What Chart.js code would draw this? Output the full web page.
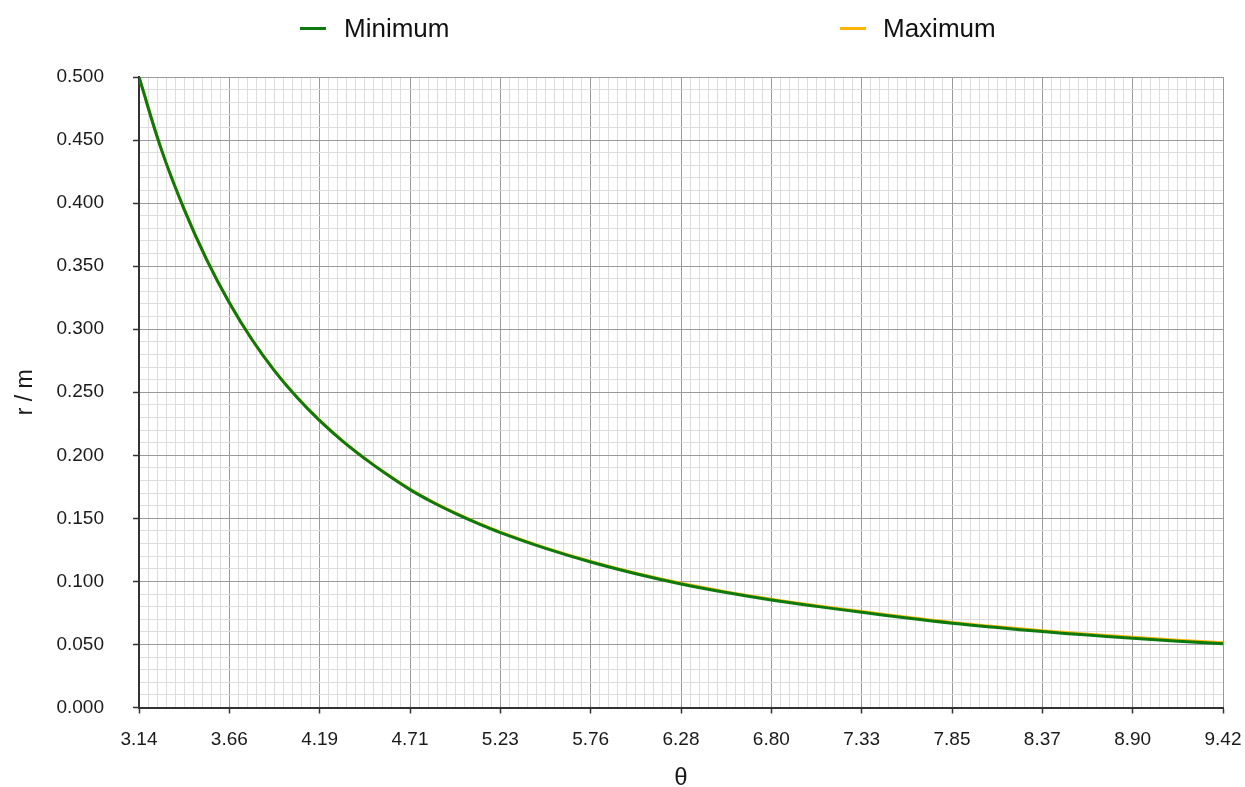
<!DOCTYPE html>
<html>
<head>
<meta charset="utf-8">
<script src="https://cdn.jsdelivr.net/npm/chart.js@4/dist/chart.umd.min.js"></script>
<style>
  body { margin: 0; background: #fff; }
  #wrap { position: relative; width: 1245px; height: 787px; }
  .legend-item { position: absolute; top: 13px; height: 30px; font: 26px "Liberation Sans", Arial, sans-serif; line-height: 30px; color: #111; }
  .legend-item span.swatch { position: absolute; top: 14px; height: 3px; width: 26px; }
  .legend-item span.label { position: absolute; white-space: nowrap; }
</style>
</head>
<body>
<div id="wrap">
  <canvas id="chart" width="1245" height="787"></canvas>
  <div class="legend-item" style="left:300px"><span class="swatch" style="left:0;background:#0d7a0d"></span><span class="label" style="left:44px">Minimum</span></div>
  <div class="legend-item" style="left:840px"><span class="swatch" style="left:0;background:#ffb400"></span><span class="label" style="left:43px">Maximum</span></div>
</div>
<script>
// values
const thetaValues = [3.1416, 3.2725, 3.4034, 3.5343, 3.6652, 3.7961, 3.9270, 4.0579, 4.1888,
  4.3197, 4.4506, 4.5815, 4.7124, 4.8433, 4.9742, 5.1051, 5.2360, 5.4978, 5.7596, 6.0214,
  6.2832, 6.5450, 6.8068, 7.0686, 7.3304, 7.5922, 7.8540, 8.1158, 8.3776, 8.6394, 8.9012,
  9.1630, 9.4248];
const minimumRadius = [0.500, 0.442, 0.395, 0.355, 0.321, 0.2918, 0.2670, 0.2459, 0.2275,
  0.2115, 0.1974, 0.1845, 0.1728, 0.1628, 0.1540, 0.1460, 0.1387, 0.1262, 0.1154, 0.1061,
  0.0980, 0.0912, 0.0853, 0.0802, 0.0755, 0.0710, 0.0669, 0.0634, 0.0602, 0.0574, 0.0549,
  0.0526, 0.0505];
const maximumRadius = [0.500, 0.442, 0.395, 0.355, 0.321, 0.2918, 0.2671, 0.2460, 0.2277,
  0.2117, 0.1976, 0.1847, 0.1731, 0.1631, 0.1543, 0.1463, 0.1391, 0.1266, 0.1158, 0.1065,
  0.0985, 0.0917, 0.0858, 0.0807, 0.0761, 0.0716, 0.0675, 0.0640, 0.0609, 0.0581, 0.0557,
  0.0534, 0.0514];

const xTickLabels = ["3.14", "3.66", "4.19", "4.71", "5.23", "5.76", "6.28", "6.80", "7.33", "7.85", "8.37", "8.90", "9.42"];
const yTickLabels = ["0.000", "0.050", "0.100", "0.150", "0.200", "0.250", "0.300", "0.350", "0.400", "0.450", "0.500"];

const X_MIN = Math.PI, X_MAX = 3 * Math.PI;
const X_MINOR = 10, Y_MINOR = 5;

function toPoints(xs, ys) {
  return xs.map(function (x, i) { return { x: x, y: ys[i] }; });
}

Chart.defaults.font.family = '"Liberation Sans", Arial, sans-serif';
Chart.defaults.color = "#1a1a1a";

const majorGrid = "#9a9a9a";
const minorGrid = "#dddddd";
const axisColor = "#333333";

new Chart(document.getElementById("chart"), {
  type: "line",
  data: {
    datasets: [
      {
        label: "Minimum",
        data: toPoints(thetaValues, minimumRadius),
        borderColor: "#0d7a0d",
        borderWidth: 3,
        pointRadius: 0,
        tension: 0.4,
        fill: false,
      },
      {
        label: "Maximum",
        data: toPoints(thetaValues, maximumRadius),
        borderColor: "#ffb400",
        borderWidth: 3,
        pointRadius: 0,
        tension: 0.4,
        fill: false,
      },
    ],
  },
  options: {
    responsive: false,
    animation: false,
    devicePixelRatio: 1,
    layout: { padding: { top: 77, right: 22, bottom: 0, left: 0 } },
    plugins: {
      legend: { display: false },
      tooltip: { enabled: false },
    },
    scales: {
      x: {
        type: "linear",
        min: X_MIN,
        max: X_MAX,
        afterBuildTicks: function (scale) {
          const ticks = [];
          const n = (xTickLabels.length - 1) * X_MINOR;
          for (let i = 0; i <= n; i++) {
            ticks.push({ value: X_MIN + (i * (X_MAX - X_MIN)) / n });
          }
          scale.ticks = ticks;
        },
        afterFit: function (scale) {
          scale.height = 79.5;
          scale.paddingLeft = 0;
          scale.paddingRight = 0;
        },
        ticks: {
          autoSkip: false,
          maxRotation: 0,
          padding: 15,
          font: { size: 19 },
          callback: function (value, index) {
            return index % X_MINOR === 0 ? xTickLabels[index / X_MINOR] : "";
          },
        },
        grid: {
          lineWidth: 1,
          tickLength: 6,
          color: function (ctx) {
            return ctx.index % X_MINOR === 0 ? majorGrid : minorGrid;
          },
          tickColor: function (ctx) {
            return ctx.index % X_MINOR === 0 ? axisColor : "rgba(0,0,0,0)";
          },
          tickWidth: 1.5,
        },
        border: { color: axisColor, width: 2 },
        title: {
          display: true,
          text: "θ",
          font: { size: 24, lineHeight: "20px" },
          color: "#1a1a1a",
          padding: { top: 0, bottom: -1 },
        },
      },
      y: {
        min: 0,
        max: 0.5,
        afterBuildTicks: function (scale) {
          const ticks = [];
          const n = (yTickLabels.length - 1) * Y_MINOR;
          for (let i = 0; i <= n; i++) {
            ticks.push({ value: (i * 0.5) / n });
          }
          scale.ticks = ticks;
        },
        afterFit: function (scale) {
          scale.width = 139;
        },
        ticks: {
          autoSkip: false,
          padding: 29,
          font: { size: 19 },
          callback: function (value, index) {
            return index % Y_MINOR === 0 ? yTickLabels[index / Y_MINOR] : "";
          },
        },
        grid: {
          lineWidth: 1,
          tickLength: 6,
          color: function (ctx) {
            return ctx.index % Y_MINOR === 0 ? majorGrid : minorGrid;
          },
          tickColor: function (ctx) {
            return ctx.index % Y_MINOR === 0 ? axisColor : "rgba(0,0,0,0)";
          },
          tickWidth: 1.5,
        },
        border: { color: axisColor, width: 2 },
        title: {
          display: true,
          text: "r / m",
          font: { size: 23, lineHeight: "24px" },
          color: "#1a1a1a",
          padding: { top: 14, bottom: 0 },
        },
      },
    },
  },
});
</script>
</body>
</html>
